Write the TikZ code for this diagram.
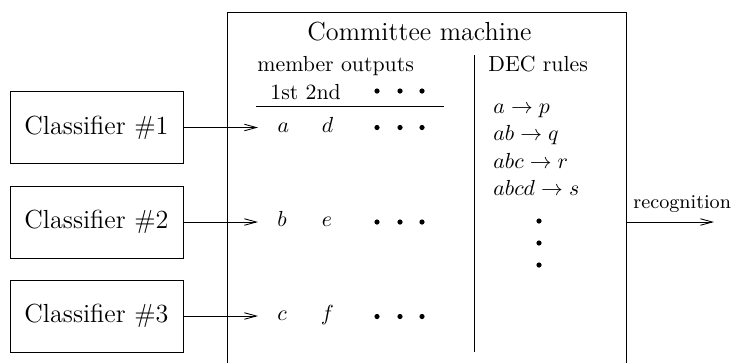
\documentclass[tikz,border=0pt]{standalone}
\usetikzlibrary{arrows.meta}
\begin{document}
\def\u{0.4587pt}
\begin{tikzpicture}[x=0.4587pt,y=-0.4587pt,
  line width=0.4pt,
  clsbox/.style={draw, minimum width=173*\u, minimum height=72*\u, inner sep=0pt, font=\large},
  arr/.style={-{Straight Barb[length=5.5pt,width=3pt]}},
  dotn/.style={circle, fill, inner sep=0pt, minimum size=5.2*\u},
  lbl/.style={inner sep=0pt, anchor=base west},
  let/.style={inner sep=0pt, anchor=base}]
\useasboundingbox (0,0) rectangle (738,362);
% committee machine frame
\coordinate (bl) at (227,364);
\coordinate (tl) at (227,12);
\coordinate (tr) at (626,12);
\coordinate (br) at (626,364);
\draw (bl) -- (tl) -- (tr) -- (br);
\node[lbl, font=\large] (title) at (307,40) {Committee machine};
\node[lbl] (mo) at (257,71) {member outputs};
\node[lbl] (dec) at (488,71) {DEC rules};
\node[lbl] (ord) at (270,99) {1st 2nd};
\node[dotn] (h1) at (377,91) {};
\node[dotn] (h2) at (400,91) {};
\node[dotn] (h3) at (422,91) {};
\coordinate (ls) at (256,106);
\coordinate (le) at (444,106);
\draw (ls) -- (le);
\coordinate (dvt) at (474,55);
\coordinate (dvb) at (474,352);
\draw (dvt) -- (dvb);
% classifiers
\node[clsbox] (c1) at (96.5,127.5) {Classifier \#1};
\node[clsbox] (c2) at (96.5,222) {Classifier \#2};
\node[clsbox] (c3) at (96.5,316) {Classifier \#3};
\coordinate (t1) at (258,127.5);
\coordinate (t2) at (258,222);
\coordinate (t3) at (258,316);
\draw[arr] (c1.east) -- (t1);
\draw[arr] (c2.east) -- (t2);
\draw[arr] (c3.east) -- (t3);
% member outputs rows
\node[let] (a) at (283.5,132.5) {$a$};
\node[let] (d) at (327.5,132.5) {$d$};
\node[let] (b) at (282,226.5) {$b$};
\node[let] (e) at (327,226.5) {$e$};
\node[let] (c) at (282,320.5) {$c$};
\node[let] (f) at (327.5,320.5) {$f$};
\foreach \r/\y in {1/127.5,2/222,3/316.5}{
  \node[dotn] (r\r a) at (377,\y) {};
  \node[dotn] (r\r b) at (400,\y) {};
  \node[dotn] (r\r c) at (422,\y) {};
}
% DEC rules
\node[lbl] (r1) at (493,113) {$a\rightarrow p$};
\node[lbl] (r2) at (493,140.5) {$ab\rightarrow q$};
\node[lbl] (r3) at (493,168) {$abc\rightarrow r$};
\node[lbl] (r4) at (493,195) {$abcd\rightarrow s$};
\node[dotn] (v1) at (539,221) {};
\node[dotn] (v2) at (539,243) {};
\node[dotn] (v3) at (539,265) {};
% output
\coordinate (out) at (626,222);
\coordinate (rec) at (714,222);
\draw[arr] (out) -- (rec);
\node[lbl, font=\small] (reclbl) at (633,208) {recognition};
\end{tikzpicture}
\end{document}
